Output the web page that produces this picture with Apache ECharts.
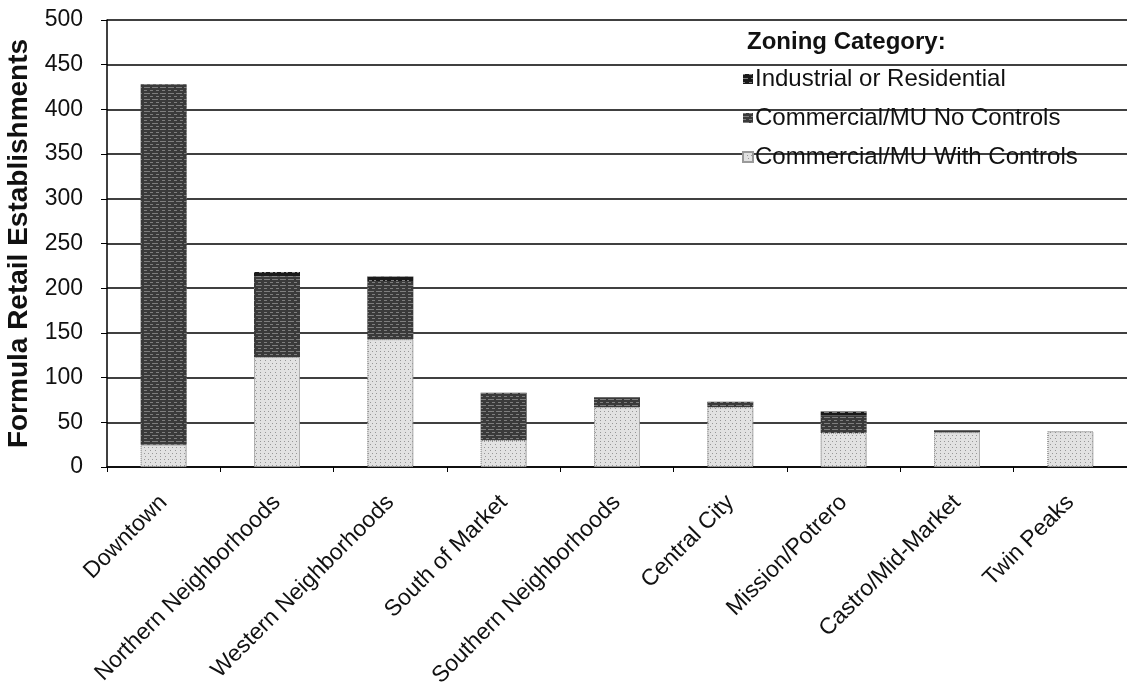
<!DOCTYPE html>
<html>
<head>
<meta charset="utf-8">
<script src="https://cdn.jsdelivr.net/npm/echarts@6/dist/echarts.min.js"></script>
<style>
  html, body { margin: 0; padding: 0; background: #fff; }
  #chart { width: 1127px; height: 698px; }
</style>
</head>
<body>
<div id="chart"></div>
<script>
// Formula retail establishments by planning area, split by zoning category
const categories = ['Downtown', 'Northern Neighborhoods', 'Western Neighborhoods', 'South of Market',
  'Southern Neighborhoods', 'Central City', 'Mission/Potrero', 'Castro/Mid-Market', 'Twin Peaks'];
const withControls = [25, 123, 143, 30, 67, 67, 38, 39, 40];
const noControls   = [403, 90, 65, 53, 11, 6, 20, 2, 0];
const industrial   = [0, 5, 5, 0, 0, 0, 4, 0, 0];
const seriesNames = ['Industrial or Residential', 'Commercial/MU No Controls', 'Commercial/MU With Controls'];
const yTicks = { min: 0, max: 500, interval: 50 };

const font = 'Liberation Sans, Arial, sans-serif';

const chart = echarts.init(document.getElementById('chart'), null, { renderer: 'canvas' });

// speckled fills for the three zoning categories
const darkDecal = {
  symbol: 'rect',
  color: 'rgba(255,255,255,0.45)',
  dashArrayX: [[5, 3], [2, 4, 3, 2]],
  dashArrayY: [1, 3],
  symbolSize: 1
};
const midDecal = {
  symbol: 'rect',
  color: 'rgba(255,255,255,0.35)',
  dashArrayX: [[6, 2], [3, 3]],
  dashArrayY: [1, 2],
  symbolSize: 1
};
const lightDecal = {
  symbol: 'rect',
  color: 'rgba(90,90,90,0.55)',
  dashArrayX: [[1, 3], [1, 4]],
  dashArrayY: [1, 2],
  symbolSize: 1
};

chart.setOption({
  backgroundColor: '#ffffff',
  animation: false,
  title: {
    text: 'Zoning Category:',
    left: 742,
    top: 25,
    textStyle: { fontFamily: font, fontSize: 24, fontWeight: 'bold', color: '#111' }
  },
  legend: {
    data: seriesNames,
    orient: 'vertical',
    left: 737,
    top: 62,
    itemWidth: 10,
    itemHeight: 10,
    itemGap: 15,
    icon: 'rect',
    textStyle: { fontFamily: font, fontSize: 24, lineHeight: 24, color: '#111', padding: [0, 0, 0, -3] }
  },
  grid: { left: 107, right: 0, top: 20, bottom: 231, containLabel: false, outerBoundsMode: 'none' },
  xAxis: {
    type: 'category',
    data: categories,
    boundaryGap: true,
    axisLine: { lineStyle: { color: '#000', width: 1.5 } },
    axisTick: { show: true, length: 5, lineStyle: { color: '#000' } },
    axisLabel: {
      rotate: 45,
      interval: 0,
      margin: 32,
      fontFamily: font,
      fontSize: 23,
      color: '#111'
    }
  },
  yAxis: {
    type: 'value',
    min: yTicks.min,
    max: yTicks.max,
    interval: yTicks.interval,
    name: 'Formula Retail Establishments',
    nameLocation: 'middle',
    nameGap: 73,
    nameTextStyle: { fontFamily: font, fontSize: 28, fontWeight: 'bold', color: '#111' },
    axisLine: { show: true, lineStyle: { color: '#000', width: 1.5 } },
    axisTick: { show: true, length: 6, lineStyle: { color: '#000' } },
    axisLabel: { fontFamily: font, fontSize: 23, color: '#111', margin: 24 },
    splitLine: { show: true, lineStyle: { color: '#000', width: 1.5 } }
  },
  series: [
    {
      name: seriesNames[2],
      type: 'bar',
      stack: 'zoning',
      barWidth: 46,
      data: withControls,
      itemStyle: { color: '#e2e2e2', borderColor: '#9a9a9a', borderWidth: 1, borderType: 'dotted', decal: lightDecal }
    },
    {
      name: seriesNames[1],
      type: 'bar',
      stack: 'zoning',
      barWidth: 46,
      data: noControls,
      itemStyle: { color: '#3a3a3a', decal: midDecal }
    },
    {
      name: seriesNames[0],
      type: 'bar',
      stack: 'zoning',
      barWidth: 46,
      data: industrial,
      itemStyle: { color: '#1a1a1a', decal: darkDecal }
    }
  ]
});
</script>
</body>
</html>
